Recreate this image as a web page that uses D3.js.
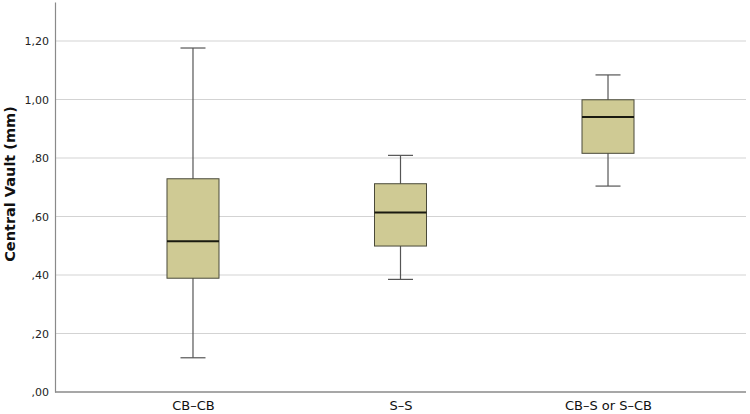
<!DOCTYPE html>
<html><head><meta charset="utf-8">
<script src="https://cdn.jsdelivr.net/npm/d3@7"></script>
<style>body{margin:0;background:#fff}svg{display:block}text{font-family:"DejaVu Sans",Verdana,sans-serif}</style>
</head><body><svg id="c" width="750" height="414"></svg>
<script>
const categories = ["CB\u2013CB", "S\u2013S", "CB\u2013S or S\u2013CB"];
const whiskerLow  = [0.117, 0.385, 0.704];
const q1          = [0.389, 0.499, 0.816];
const median      = [0.515, 0.614, 0.940];
const q3          = [0.729, 0.712, 0.999];
const whiskerHigh = [1.176, 0.809, 1.084];
const yTicks = [0, 0.2, 0.4, 0.6, 0.8, 1.0, 1.2];
const yTickLabels = [",00", ",20", ",40", ",60", ",80", "1,00", "1,20"];

const svg = d3.select("#c");
const mLeft = 55, mRight = 746, mTop = 2, mBottom = 392;
const y = d3.scaleLinear().domain([0, 1.3333]).range([mBottom, mTop]);
const x = d3.scalePoint().domain(categories).range([mLeft, mRight]).padding(0.665);

// gridlines
svg.append("g").selectAll("line").data(yTicks.filter(d => d > 0)).join("line")
  .attr("x1", mLeft).attr("x2", mRight).attr("y1", d => y(d)).attr("y2", d => y(d))
  .attr("stroke", "#d3d3d3").attr("stroke-width", 1.2);

// y axis
const yAxis = d3.axisLeft(y).tickValues(yTicks).tickSize(0).tickPadding(6)
  .tickFormat((d, i) => yTickLabels[i]);
const gy = svg.append("g").attr("transform", `translate(${mLeft},0)`).call(yAxis);
gy.select(".domain").attr("stroke", "#8a8a8a").attr("stroke-width", 1.2);
gy.selectAll("text").attr("font-size", 11).attr("fill", "#222");

// x axis
const xAxis = d3.axisBottom(x).tickSize(0).tickPadding(9);
const gx = svg.append("g").attr("transform", `translate(0,${mBottom})`).call(xAxis);
gx.select(".domain").attr("stroke", "#8a8a8a").attr("stroke-width", 1.5).attr("d", `M${mLeft},0H${mRight}`);
gx.selectAll("text").attr("font-size", 13).attr("fill", "#111");

// y title
svg.append("text").attr("transform", `translate(15,184) rotate(-90)`)
  .attr("text-anchor", "middle").attr("font-size", 14.5).attr("font-weight", "bold").attr("fill", "#111")
  .text("Central Vault (mm)");

const boxW = 52, capW = 25;
const g = svg.append("g").selectAll("g").data(categories).join("g");
g.append("line").attr("x1", d => x(d)).attr("x2", d => x(d))
  .attr("y1", (d, i) => y(whiskerLow[i])).attr("y2", (d, i) => y(whiskerHigh[i]))
  .attr("stroke", "#555").attr("stroke-width", 1.2);
g.each(function (d, i) {
  const s = d3.select(this);
  [whiskerLow[i], whiskerHigh[i]].forEach(v => {
    s.append("line").attr("x1", x(d) - capW / 2).attr("x2", x(d) + capW / 2)
      .attr("y1", y(v)).attr("y2", y(v)).attr("stroke", "#555").attr("stroke-width", 1.2);
  });
});
g.append("rect").attr("x", d => x(d) - boxW / 2).attr("width", boxW)
  .attr("y", (d, i) => y(q3[i])).attr("height", (d, i) => y(q1[i]) - y(q3[i]))
  .attr("fill", "#cfca94").attr("stroke", "#4a4a3a").attr("stroke-width", 1);
g.append("line").attr("x1", d => x(d) - boxW / 2).attr("x2", d => x(d) + boxW / 2)
  .attr("y1", (d, i) => y(median[i])).attr("y2", (d, i) => y(median[i]))
  .attr("stroke", "#1a1a10").attr("stroke-width", 2);
</script></body></html>
